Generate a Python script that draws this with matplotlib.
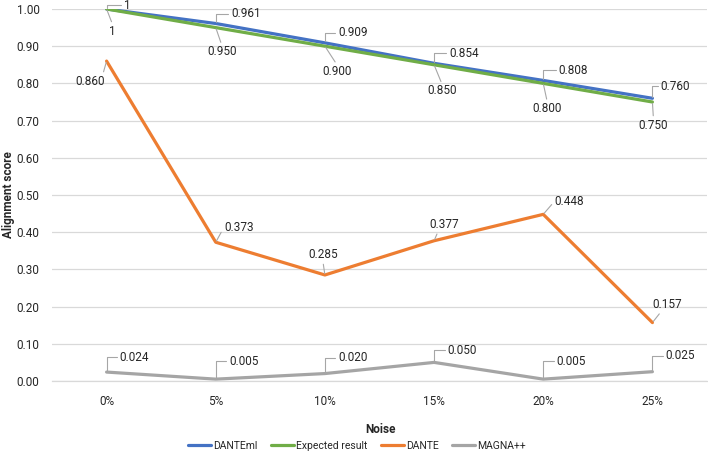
import matplotlib
matplotlib.use('Agg')
import matplotlib.pyplot as plt

# data
noise = ['0%', '5%', '10%', '15%', '20%', '25%']
dante_ml = [1.0, 0.961, 0.909, 0.854, 0.808, 0.760]
expected = [1.0, 0.950, 0.900, 0.850, 0.800, 0.750]
dante = [0.860, 0.373, 0.285, 0.377, 0.448, 0.157]
magna = [0.024, 0.005, 0.020, 0.050, 0.005, 0.025]

plt.rcParams['font.family'] = ['Roboto', 'DejaVu Sans']
TXT = '#262626'
LEAD = '#A6A6A6'
FS = 8.5


def label_points(ax, vals, fmts, offsets, relpos, angle=True):
    for i, v in enumerate(vals):
        dx, dy = offsets[i]
        rp = relpos[i] if isinstance(relpos, list) else relpos
        if angle:
            cs = 'angle,angleA=0,angleB=90,rad=0'
        else:
            cs = 'arc3'
        ax.annotate(fmts[i], xy=(i, v), xytext=(dx, dy), textcoords='offset pixels',
                    ha='center', va='center', fontsize=FS, color=TXT,
                    arrowprops=dict(arrowstyle='-', color=LEAD, lw=0.8,
                                    shrinkA=0, shrinkB=1, relpos=rp,
                                    connectionstyle=cs))


fig = plt.figure(figsize=(7.08, 4.61), dpi=100)
ax = fig.add_axes([52 / 708, 1 - 381 / 461, 655 / 708, 372 / 461])
x = list(range(len(noise)))

ax.plot(x, dante_ml, color='#4472C4', lw=2.3, label='DANTEml', solid_capstyle='round')
ax.plot(x, expected, color='#70AD47', lw=2.3, label='Expected result', solid_capstyle='round')
ax.plot(x, dante, color='#ED7D31', lw=2.3, label='DANTE', solid_capstyle='round')
ax.plot(x, magna, color='#A5A5A5', lw=2.3, label='MAGNA++', solid_capstyle='round')

ax.set_xlim(-0.5, 5.5)
ax.set_ylim(0, 1.0)
ax.set_yticks([i / 10 for i in range(11)])
ax.set_yticklabels(['%.2f' % (i / 10) for i in range(11)])
ax.set_xticks(x)
ax.set_xticklabels(noise)
ax.tick_params(length=0, labelsize=FS, colors=TXT, pad=10)
ax.tick_params(axis='y', pad=9)
ax.grid(axis='y', color='#D9D9D9', lw=0.9)
ax.set_axisbelow(True)
for s in ax.spines.values():
    s.set_visible(False)
ax.spines['bottom'].set_visible(True)
ax.spines['bottom'].set_color('#D9D9D9')
ax.spines['bottom'].set_linewidth(0.9)


def fmt(vals):
    return ['1' if v == 1.0 else '%.3f' % v for v in vals]


label_points(ax, dante_ml, fmt(dante_ml),
             [(21, 4), (30, 10), (28, 10), (30, 10), (30, 10), (23, 12)], (0, 0.5))
label_points(ax, expected, fmt(expected),
             [(6, -22), (6, -24), (12, -25), (8, -26), (4, -25), (1, -23)], (0.5, 1), angle=False)
label_points(ax, dante, fmt(dante),
             [(-16, -20), (23, 15), (-2, 20), (10, 16), (26, 13), (15, 18)],
             [(0.9, 0.9), (0, 0.5), (0.5, 0), (0.3, 0), (0, 0.5), (0.3, 0)], angle=False)
label_points(ax, magna, fmt(magna),
             [(28, 15), (28, 18), (28, 16), (28, 12), (28, 18), (28, 16)], (0, 0.5))

fig.text(380 / 708, 1 - 429 / 461, 'Noise', ha='center', va='center',
         fontsize=FS, fontweight='bold', color=TXT)
fig.text(9 / 708, 1 - 195 / 461, 'Alignment score', ha='center', va='center',
         rotation=90, fontsize=FS, fontweight='bold', color=TXT)
fig.legend(loc='center', bbox_to_anchor=(357 / 708, 1 - 446 / 461), ncol=4,
           frameon=False, fontsize=7.5, handlelength=2.2, handletextpad=0.2,
           columnspacing=1.3, labelcolor=TXT)

fig.savefig('out.png', dpi=100)
